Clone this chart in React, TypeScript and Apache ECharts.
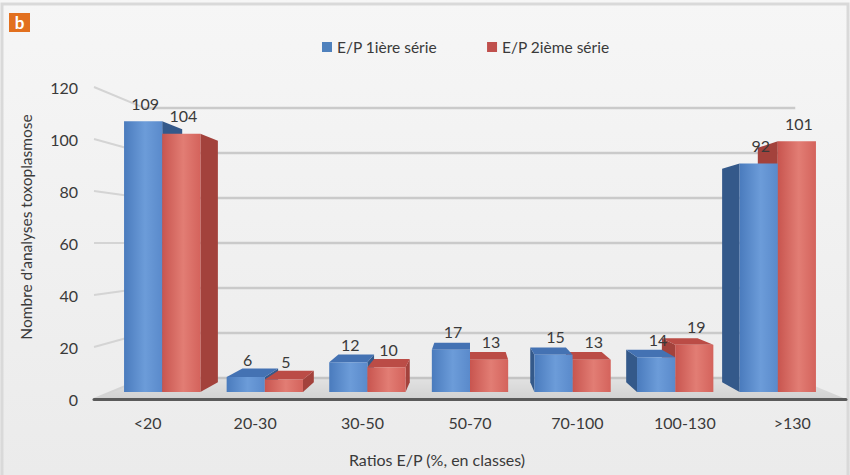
import React, { useEffect, useRef } from "react";
import * as echarts from "echarts";

// Ratio classes (E/P, %) and counts of toxoplasmosis analyses per series
const CATEGORIES = ["<20", "20-30", "30-50", "50-70", "70-100", "100-130", ">130"];
const SERIE_1 = [109, 6, 12, 17, 15, 14, 92];
const SERIE_2 = [104, 5, 10, 13, 13, 19, 101];
const SERIES_NAMES = ["E/P 1ière série", "E/P 2ième série"];
const Y_TICKS = [0, 20, 40, 60, 80, 100, 120];

const FONT = "Lato, 'Liberation Sans', sans-serif";
const TEXT_COLOR = "#3a3a3a";

// Pseudo-3D depth factors (scale toward the vanishing point at the grid centre)
const D_BAR_FRONT = 0.955;
const D_BAR_BACK = 0.893;
const D_WALL = 0.865;
const BAR_RATIO = 0.372; // width of one bar as a share of the category band

type Palette = { stops: [number, string][]; side: string; top: string; legend: string };
const PALETTES: Palette[] = [
  {
    stops: [[0, "#4a7bbd"], [0.55, "#6c9cd9"], [1, "#5a8acb"]],
    side: "#34598a",
    top: "#4472b3",
    legend: "#4f81bd",
  },
  {
    stops: [[0, "#c8554f"], [0.55, "#e27d74"], [1, "#d4635c"]],
    side: "#a3423c",
    top: "#bb4c46",
    legend: "#c0504d",
  },
];

function vanishing(cs: any) {
  return [cs.x + cs.width / 2, cs.y + cs.height / 2];
}

function project(vp: number[], x: number, y: number, d: number) {
  return [vp[0] + (x - vp[0]) * d, vp[1] + (y - vp[1]) * d];
}

function makeBarRenderer(which: number) {
  const pal = PALETTES[which];
  return (params: any, api: any) => {
    const vp = vanishing(params.coordSys);
    const idx = api.value(0);
    const val = api.value(1);
    const topPt = api.coord([idx, val]);
    const botPt = api.coord([idx, 0]);
    const band = api.size([1, 0])[0];
    const w = band * BAR_RATIO;
    const x0 = which === 0 ? topPt[0] - w : topPt[0];
    const x1 = x0 + w;
    const yT = topPt[1];
    const yB = botPt[1];
    const F = D_BAR_FRONT;
    const B = D_BAR_BACK;
    const leftOfCentre = topPt[0] < vp[0] - 1;
    const base = leftOfCentre ? (which === 0 ? 10 : 20) : which === 0 ? 20 : 10;
    const children: any[] = [];

    // right side face visible when the bar sits left of the vanishing point
    const fx1 = project(vp, x1, yT, F)[0];
    const fx0 = project(vp, x0, yT, F)[0];
    if (fx1 < vp[0] - 0.5) {
      children.push({
        type: "polygon",
        z2: base,
        shape: {
          points: [project(vp, x1, yT, F), project(vp, x1, yT, B), project(vp, x1, yB, B), project(vp, x1, yB, F)],
        },
        style: { fill: pal.side },
      });
    }
    if (fx0 > vp[0] + 0.5) {
      children.push({
        type: "polygon",
        z2: base,
        shape: {
          points: [project(vp, x0, yT, F), project(vp, x0, yT, B), project(vp, x0, yB, B), project(vp, x0, yB, F)],
        },
        style: { fill: pal.side },
      });
    }
    // top face visible when the bar top lies below the horizon
    if (project(vp, x0, yT, F)[1] > vp[1]) {
      children.push({
        type: "polygon",
        z2: base,
        shape: {
          points: [project(vp, x0, yT, F), project(vp, x1, yT, F), project(vp, x1, yT, B), project(vp, x0, yT, B)],
        },
        style: { fill: pal.top },
      });
    }
    const f0 = project(vp, x0, yT, F);
    const f1 = project(vp, x1, yB, F);
    children.push({
      type: "rect",
      z2: base + 1,
      shape: { x: f0[0], y: f0[1], width: f1[0] - f0[0], height: f1[1] - f0[1] },
      style: {
        fill: {
          type: "linear",
          x: 0,
          y: 0,
          x2: 1,
          y2: 0,
          colorStops: pal.stops.map(([offset, color]) => ({ offset, color })),
        },
      },
    });
    children.push({
      type: "text",
      z2: 100,
      x: (f0[0] + f1[0]) / 2 + 2,
      y: f0[1] - 18,
      style: {
        text: String(val),
        fill: TEXT_COLOR,
        font: `16px ${FONT}`,
        align: "center",
        verticalAlign: "middle",
      },
    });
    return { type: "group", children };
  };
}

function renderWalls(params: any, api: any) {
  const cs = params.coordSys;
  const vp = vanishing(cs);
  const v = api.value(1);
  const y = api.coord([0, v])[1];
  const xl = cs.x;
  const xr = cs.x + cs.width;
  const bl = project(vp, xl, y, D_WALL);
  const br = project(vp, xr, y, D_WALL);
  return {
    type: "group",
    children: [
      {
        type: "line",
        shape: { x1: bl[0], y1: bl[1], x2: br[0], y2: br[1] },
        style: { stroke: v === 0 ? "#c4c4c4" : "#cacaca", lineWidth: 2.5 },
      },
      {
        type: "line",
        shape: { x1: xl, y1: y, x2: bl[0], y2: bl[1] },
        style: { stroke: "#d4d4d4", lineWidth: 2 },
      },
    ],
  };
}

function renderFloor(params: any, api: any) {
  const cs = params.coordSys;
  const vp = vanishing(cs);
  const y = api.coord([0, 0])[1];
  const xl = cs.x;
  const xr = cs.x + cs.width;
  return {
    type: "polygon",
    shape: {
      points: [
        project(vp, xl, y, 1),
        project(vp, xr, y, 1),
        project(vp, xr, y, D_WALL),
        project(vp, xl, y, D_WALL),
      ],
    },
    style: {
      fill: {
        type: "linear",
        x: 0,
        y: 1,
        x2: 0,
        y2: 0,
        colorStops: [
          { offset: 0, color: "#d2d2d2" },
          { offset: 1, color: "#e2e2e2" },
        ],
      },
    },
  };
}

export default function App() {
  const ref = useRef<HTMLDivElement>(null);

  useEffect(() => {
    if (!ref.current) return;
    const chart = echarts.init(ref.current, undefined, { renderer: "svg" });
    const seriesValues = [SERIE_1, SERIE_2];

    chart.setOption({
      animation: false,
      backgroundColor: "#f1f1f1",
      textStyle: { fontFamily: FONT },
      graphic: [
        {
          type: "rect",
          z: -10,
          shape: { x: 0, y: 0, width: 850, height: 475 },
          style: {
            fill: {
              type: "linear",
              x: 0,
              y: 0,
              x2: 0,
              y2: 1,
              colorStops: [
                { offset: 0, color: "#f6f6f6" },
                { offset: 1, color: "#ebebeb" },
              ],
            },
          },
        },
        {
          type: "rect",
          z: -9,
          shape: { x: 2, y: 4, width: 846, height: 480 },
          style: { fill: "none", stroke: "#d9d9d9", lineWidth: 3 },
        },
        {
          type: "rect",
          shape: { x: 9, y: 13, width: 21, height: 19 },
          style: { fill: "#e2701f" },
        },
        {
          type: "text",
          x: 19.5,
          y: 22,
          style: {
            text: "b",
            fill: "#ffffff",
            font: `bold 17px ${FONT}`,
            align: "center",
            verticalAlign: "middle",
          },
        },
      ],
      legend: {
        data: SERIES_NAMES,
        left: 317,
        top: 34,
        icon: "rect",
        itemWidth: 10,
        itemHeight: 10,
        itemGap: 50,
        textStyle: { fontSize: 15.5, color: TEXT_COLOR, fontFamily: FONT },
      },
      grid: { left: 94, top: 87, width: 752, height: 312 },
      xAxis: {
        type: "category",
        data: CATEGORIES,
        z: 5,
        axisLine: { lineStyle: { color: "#5a5a5a", width: 3 } },
        axisTick: { show: false },
        axisLabel: { color: TEXT_COLOR, fontSize: 16, margin: 15, fontFamily: FONT },
        name: "Ratios E/P (%, en classes)",
        nameLocation: "middle",
        nameGap: 52,
        nameTextStyle: { color: TEXT_COLOR, fontSize: 16, fontFamily: FONT, padding: [0, 66, 0, 0] },
      },
      yAxis: {
        type: "value",
        min: 0,
        max: 120,
        interval: 20,
        axisLine: { show: false },
        axisTick: { show: false },
        splitLine: { show: false },
        axisLabel: { color: TEXT_COLOR, fontSize: 16, margin: 16, fontFamily: FONT },
        name: "Nombre d'analyses toxoplasmose",
        nameLocation: "middle",
        nameGap: 60,
        nameRotate: 90,
        nameTextStyle: { color: TEXT_COLOR, fontSize: 15.5, fontFamily: FONT, padding: [0, 0, 0, 32] },
      },
      series: [
        {
          type: "custom",
          name: "floor",
          z: 1,
          silent: true,
          data: [[0, 0]],
          renderItem: renderFloor,
        },
        {
          type: "custom",
          name: "walls",
          z: 1,
          silent: true,
          data: Y_TICKS.map((v) => [0, v]),
          renderItem: renderWalls,
        },
        ...seriesValues.map((vals, s) => ({
          type: "custom",
          name: SERIES_NAMES[s],
          z: 2,
          itemStyle: { color: PALETTES[s].legend },
          data: vals.map((v, i) => [i, v]),
          encode: { x: 0, y: 1 },
          renderItem: makeBarRenderer(s),
        })),
      ],
    });

    return () => chart.dispose();
  }, []);

  return (
    <div
      ref={ref}
      style={{ position: "fixed", left: 0, top: 0, width: 850, height: 475 }}
    />
  );
}
